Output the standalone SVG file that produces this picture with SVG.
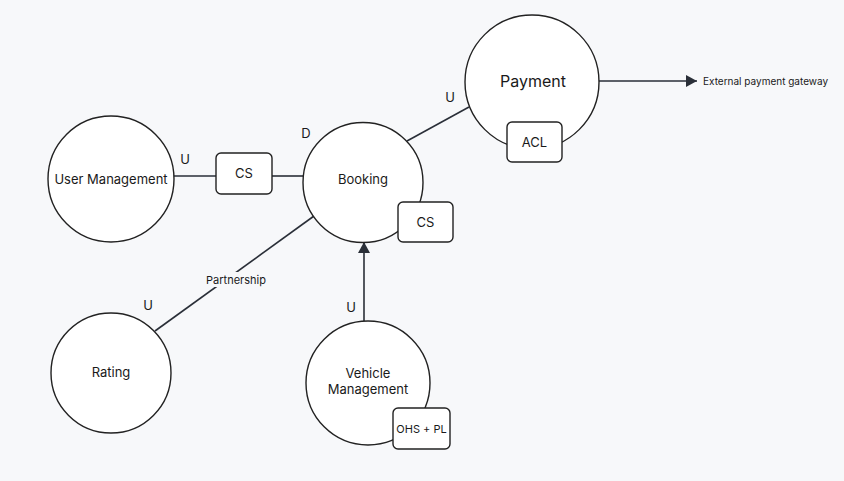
<svg xmlns="http://www.w3.org/2000/svg" width="844" height="481" viewBox="0 0 844 481">
<defs>
<style>
.ctx{fill:#ffffff;stroke:#222222;stroke-width:1.4}
.box{fill:#ffffff;stroke:#222222;stroke-width:1.4}
.lbl{font-family:Inter,"Liberation Sans",sans-serif;font-size:13px;fill:#1a1a1a;text-anchor:middle;dominant-baseline:central}
.big{font-size:16px}
.sm{font-size:11px}
.xs{font-size:10px}
.line{stroke:#2a2f38;stroke-width:1.6;fill:none}
</style>
<marker id="arr" viewBox="0 0 11 12" refX="11" refY="6" markerWidth="11" markerHeight="12" markerUnits="userSpaceOnUse" orient="auto">
<path d="M0,0 L11,6 L0,12 z" fill="#2a2f38"/>
</marker>
</defs>
<rect width="844" height="481" fill="#f7f8fa"/>
<g id="connectors">
<line class="line" x1="173" y1="176" x2="216" y2="176"/>
<line class="line" x1="272" y1="176" x2="303" y2="176"/>
<line class="line" x1="407" y1="141" x2="469" y2="107"/>
<line class="line" x1="599" y1="81" x2="697" y2="81" marker-end="url(#arr)"/>
<line class="line" x1="155" y1="331" x2="314" y2="216"/>
<line class="line" x1="364" y1="321" x2="364" y2="242" marker-end="url(#arr)"/>
<rect x="204" y="272" width="64" height="15" fill="#f7f8fa"/>
<text class="lbl sm" x="236" y="280">Partnership</text>
<text class="lbl" x="185" y="159">U</text>
<text class="lbl" x="306" y="133">D</text>
<text class="lbl" x="450" y="97">U</text>
<text class="lbl" x="148" y="305">U</text>
<text class="lbl" x="351" y="307">U</text>
<text class="lbl xs" x="703" y="81" style="text-anchor:start">External payment gateway</text>
</g>
<g id="user-management">
<circle class="ctx" cx="111" cy="179" r="63"/>
<text class="lbl" x="111" y="179">User Management</text>
</g>
<g id="cs-link">
<rect class="box" x="216" y="153" width="56" height="41" rx="5"/>
<text class="lbl" x="244" y="173">CS</text>
</g>
<g id="booking">
<circle class="ctx" cx="363" cy="182.5" r="60"/>
<text class="lbl" x="363" y="179">Booking</text>
<rect class="box" x="398" y="202" width="55" height="40" rx="5"/>
<text class="lbl" x="425.5" y="222">CS</text>
</g>
<g id="payment">
<circle class="ctx" cx="532" cy="82" r="67"/>
<text class="lbl big" x="533" y="81">Payment</text>
<rect class="box" x="507" y="122" width="55" height="40" rx="5"/>
<text class="lbl" x="534.5" y="142">ACL</text>
</g>
<g id="rating">
<circle class="ctx" cx="111" cy="373" r="60"/>
<text class="lbl" x="111" y="372">Rating</text>
</g>
<g id="vehicle-management">
<circle class="ctx" cx="368" cy="383" r="62"/>
<text class="lbl" x="368" y="373">Vehicle</text>
<text class="lbl" x="368" y="389">Management</text>
<rect class="box" x="393" y="408" width="57" height="41" rx="5"/>
<text class="lbl sm" x="421.5" y="428.5">OHS + PL</text>
</g>
</svg>
